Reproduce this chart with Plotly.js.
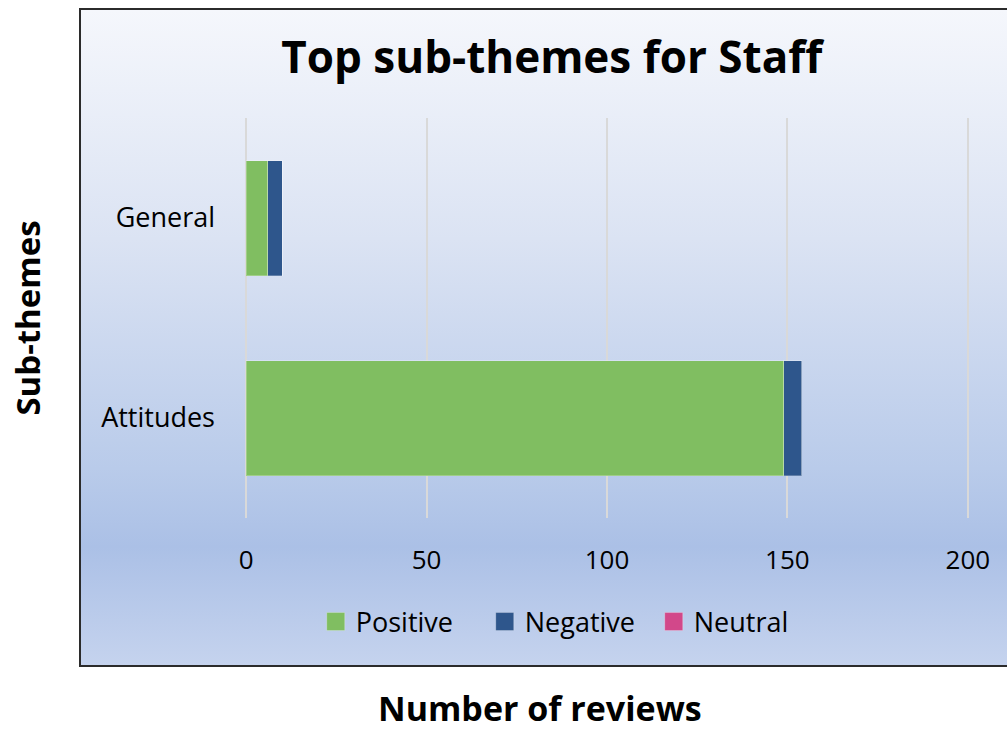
<!DOCTYPE html>
<html>
<head>
<meta charset="utf-8">
<script src="https://cdn.plot.ly/plotly-3.0.1.min.js"></script>
<style>
	body { margin: 0; background: #fff; }
	.wrap { position: relative; width: 1007px; height: 733px; overflow: hidden; }
	/* Excel-style chart area: framed box with a soft blue gradient */
	.chart-area {
		position: absolute; left: 79px; top: 8px; width: 960px; height: 655px;
		border: 2px solid #2b2b2b;
		background: linear-gradient(to bottom, #f5f7fc 0%, #dbe3f3 35%, #b9cbea 70%, #abc0e6 82%, #c5d3ee 100%);
	}
	#plot { position: absolute; left: 0; top: 0; }
</style>
</head>
<body>
<div class="wrap">
	<div class="chart-area"></div>
	<div id="plot"></div>
</div>
<script>
(function(){

	'use strict';

	// data
	const subThemes = ['General', 'Attitudes'];
	const positive = [6, 149];
	const negative = [4, 5];
	const neutral = [0, 0];

	const xTicks = [0, 50, 100, 150, 200];

	const colors = {
		Positive: '#80be61',
		Negative: '#2e568c',
		Neutral: '#d2488a',
	};

	const font = '"Open Sans", "Liberation Sans", sans-serif';

	/**
	* one stacked bar trace per sentiment
	*/
	const buildTrace = ( name, values ) => ({
		type: 'bar',
		orientation: 'h',
		name,
		x: values,
		y: subThemes,
		marker: {
			color: colors[name],
			line: { color: 'rgba(255,255,255,0.25)', width: 1 },
		},
		hoverinfo: 'x+name',
	});

	const data = [
		buildTrace('Positive', positive),
		buildTrace('Negative', negative),
		buildTrace('Neutral', neutral),
	];

	const layout = {
		width: 1007,
		height: 733,
		// range padded a touch so the 0 and 200 gridlines are kept
		margin: { l: 244, r: 37, t: 118, b: 215 },
		paper_bgcolor: 'rgba(0,0,0,0)',
		plot_bgcolor: 'rgba(0,0,0,0)',
		font: { family: font, color: '#000' },
		barmode: 'stack',
		bargap: 0.425,
		title: {
			text: '<b>Top sub-themes for Staff</b>',
			font: { size: 44, family: font, color: '#000' },
			xref: 'container', yref: 'container',
			x: 0.548, xanchor: 'center',
			y: 1 - 58 / 733, yanchor: 'middle',
		},
		xaxis: {
			range: [-0.6, 200.6],
			tickvals: xTicks,
			ticktext: xTicks.map( String ),
			tickfont: { size: 26 },
			ticklabelstandoff: 24,
			showgrid: true,
			gridcolor: '#d9d9d9',
			gridwidth: 2,
			zeroline: false,
			showline: false,
			ticks: '',
			fixedrange: true,
		},
		yaxis: {
			type: 'category',
			categoryorder: 'array',
			categoryarray: subThemes,
			autorange: 'reversed',
			tickfont: { size: 27 },
			ticklabelstandoff: 28,
			showgrid: false,
			zeroline: false,
			showline: false,
			ticks: '',
			fixedrange: true,
			title: {
				text: '<b>Sub-themes</b>',
				font: { size: 33 },
				standoff: 50,
			},
		},
		// x title sits under the chart box, off the plot centre
		annotations: [{
			text: '<b>Number of reviews</b>',
			xref: 'paper', yref: 'paper',
			x: (540 - 244) / 726, xanchor: 'center',
			y: -0.475, yanchor: 'middle',
			showarrow: false,
			font: { size: 34 },
		}],
		legend: {
			orientation: 'h',
			xref: 'paper', yref: 'paper',
			x: 0.448, xanchor: 'center',
			y: -0.26, yanchor: 'middle',
			font: { size: 27 },
			bgcolor: 'rgba(0,0,0,0)',
			traceorder: 'normal',
			entrywidth: 124,
			entrywidthmode: 'pixels',
		},
		showlegend: true,
	};

	Plotly.newPlot('plot', data, layout, { displayModeBar: false, staticPlot: true }).then( gd => {
		// bigger legend swatches, like the Excel ones
		gd.querySelectorAll('.legend .legendpoints path').forEach( p => {
			p.setAttribute('d', 'M9,9H-9V-9H9Z');
		});
	});

})();
</script>
</body>
</html>
